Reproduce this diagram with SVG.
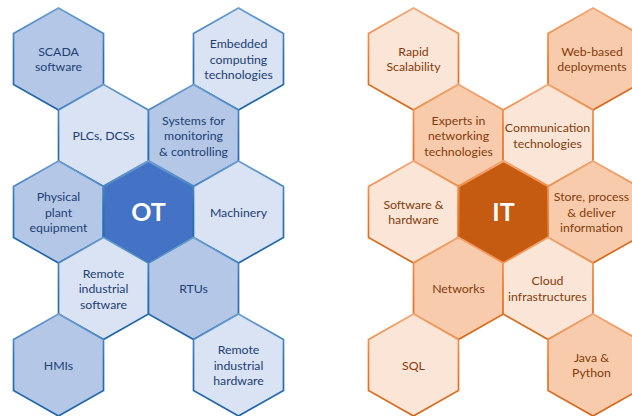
<svg xmlns="http://www.w3.org/2000/svg" xmlns:xlink="http://www.w3.org/1999/xlink" width="632" height="416" viewBox="0 0 632 416">
  <defs>
    <!-- pointy-top hexagon centred on the origin -->
    <polygon id="hex" points="0,-51 45,-25.5 45,25.5 0,51 -45,25.5 -45,-25.5"/>
    <linearGradient id="edgeBlue" x1="0" y1="0" x2="0" y2="1">
      <stop offset="0" stop-color="#6C9CD2"/>
      <stop offset="0.45" stop-color="#2E75B6"/>
      <stop offset="1" stop-color="#1F64A8"/>
    </linearGradient>
    <linearGradient id="edgeOrange" x1="0" y1="0" x2="0" y2="1">
      <stop offset="0" stop-color="#F2A672"/>
      <stop offset="0.45" stop-color="#ED7D31"/>
      <stop offset="1" stop-color="#D26618"/>
    </linearGradient>
    <style>
      .b1 { fill: #DAE3F3; stroke: url(#edgeBlue); stroke-width: 1.7; }
      .b2 { fill: #B4C7E7; stroke: url(#edgeBlue); stroke-width: 1.7; }
      .b3 { fill: #4472C4; stroke: url(#edgeBlue); stroke-width: 2.2; }
      .o1 { fill: #FBE5D6; stroke: url(#edgeOrange); stroke-width: 1.7; }
      .o2 { fill: #F8CBAD; stroke: url(#edgeOrange); stroke-width: 1.7; }
      .o3 { fill: #C55A11; stroke: url(#edgeOrange); stroke-width: 2.2; }
      text { font-family: Lato, "Open Sans", sans-serif; font-size: 12.3px; text-anchor: middle; }
      .tb { fill: #223F73; }
      .to { fill: #843C0C; }
      .hub { fill: #FFFFFF; font-size: 25px; font-weight: bold; }
    </style>
  </defs>

  <!-- OT cluster -->
  <g id="ot-cluster">
    <g id="scada">
      <use xlink:href="#hex" x="58.5" y="59" class="b2"/>
      <text class="tb"><tspan x="58.5" y="55.8">SCADA</tspan><tspan x="58.5" y="71.3">software</tspan></text>
    </g>
    <g id="embedded">
      <use xlink:href="#hex" x="238.5" y="59" class="b1"/>
      <text class="tb"><tspan x="238.5" y="48">Embedded</tspan><tspan x="238.5" y="63.5">computing</tspan><tspan x="238.5" y="79">technologies</tspan></text>
    </g>
    <g id="plcs">
      <use xlink:href="#hex" x="103.5" y="135.5" class="b1"/>
      <text class="tb"><tspan x="103.5" y="140">PLCs, DCSs</tspan></text>
    </g>
    <g id="systems">
      <use xlink:href="#hex" x="193.5" y="135.5" class="b2"/>
      <text class="tb"><tspan x="193.5" y="124.5">Systems for</tspan><tspan x="193.5" y="140">monitoring</tspan><tspan x="193.5" y="155.5">&amp; controlling</tspan></text>
    </g>
    <g id="physical">
      <use xlink:href="#hex" x="58.5" y="212" class="b2"/>
      <text class="tb"><tspan x="58.5" y="201">Physical</tspan><tspan x="58.5" y="216.5">plant</tspan><tspan x="58.5" y="232">equipment</tspan></text>
    </g>
    <g id="ot">
      <use xlink:href="#hex" x="148.5" y="212" class="b3"/>
      <text class="hub" x="148.5" y="221">OT</text>
    </g>
    <g id="machinery">
      <use xlink:href="#hex" x="238.5" y="212" class="b1"/>
      <text class="tb"><tspan x="238.5" y="216.5">Machinery</tspan></text>
    </g>
    <g id="remote-software">
      <use xlink:href="#hex" x="103.5" y="288.5" class="b1"/>
      <text class="tb"><tspan x="103.5" y="277.5">Remote</tspan><tspan x="103.5" y="293">industrial</tspan><tspan x="103.5" y="308.5">software</tspan></text>
    </g>
    <g id="rtus">
      <use xlink:href="#hex" x="193.5" y="288.5" class="b2"/>
      <text class="tb"><tspan x="193.5" y="293">RTUs</tspan></text>
    </g>
    <g id="hmis">
      <use xlink:href="#hex" x="58.5" y="365" class="b2"/>
      <text class="tb"><tspan x="58.5" y="369.5">HMIs</tspan></text>
    </g>
    <g id="remote-hardware">
      <use xlink:href="#hex" x="238.5" y="365" class="b1"/>
      <text class="tb"><tspan x="238.5" y="354">Remote</tspan><tspan x="238.5" y="369.5">industrial</tspan><tspan x="238.5" y="385">hardware</tspan></text>
    </g>
  </g>

  <!-- IT cluster -->
  <g id="it-cluster">
    <g id="scalability">
      <use xlink:href="#hex" x="413.5" y="59" class="o1"/>
      <text class="to"><tspan x="413.5" y="55.8">Rapid</tspan><tspan x="413.5" y="71.3">Scalability</tspan></text>
    </g>
    <g id="web-based">
      <use xlink:href="#hex" x="593" y="59" class="o2"/>
      <text class="to"><tspan x="592" y="55.8">Web-based</tspan><tspan x="592" y="71.3">deployments</tspan></text>
    </g>
    <g id="experts">
      <use xlink:href="#hex" x="458.5" y="135.5" class="o2"/>
      <text class="to"><tspan x="458.5" y="124.5">Experts in</tspan><tspan x="458.5" y="140">networking</tspan><tspan x="458.5" y="155.5">technologies</tspan></text>
    </g>
    <g id="communication">
      <use xlink:href="#hex" x="548" y="135.5" class="o1"/>
      <text class="to"><tspan x="547.5" y="132.3">Communication</tspan><tspan x="547.5" y="147.8">technologies</tspan></text>
    </g>
    <g id="software-hardware">
      <use xlink:href="#hex" x="413.5" y="212" class="o1"/>
      <text class="to"><tspan x="413.5" y="208.8">Software &amp;</tspan><tspan x="413.5" y="224.3">hardware</tspan></text>
    </g>
    <g id="it">
      <use xlink:href="#hex" x="503.5" y="212" class="o3"/>
      <text class="hub" x="503.5" y="221">IT</text>
    </g>
    <g id="store-process">
      <use xlink:href="#hex" x="593" y="212" class="o2"/>
      <text class="to"><tspan x="591.5" y="201">Store, process</tspan><tspan x="591.5" y="216.5">&amp; deliver</tspan><tspan x="591.5" y="232">information</tspan></text>
    </g>
    <g id="networks">
      <use xlink:href="#hex" x="458.5" y="288.5" class="o2"/>
      <text class="to"><tspan x="458.5" y="293">Networks</tspan></text>
    </g>
    <g id="cloud">
      <use xlink:href="#hex" x="548" y="288.5" class="o1"/>
      <text class="to"><tspan x="547.5" y="285.3">Cloud</tspan><tspan x="547.5" y="300.8">infrastructures</tspan></text>
    </g>
    <g id="sql">
      <use xlink:href="#hex" x="413.5" y="365" class="o1"/>
      <text class="to"><tspan x="413.5" y="369.5">SQL</tspan></text>
    </g>
    <g id="java-python">
      <use xlink:href="#hex" x="593" y="365" class="o2"/>
      <text class="to"><tspan x="591.5" y="361.8">Java &amp;</tspan><tspan x="591.5" y="377.3">Python</tspan></text>
    </g>
  </g>
</svg>
